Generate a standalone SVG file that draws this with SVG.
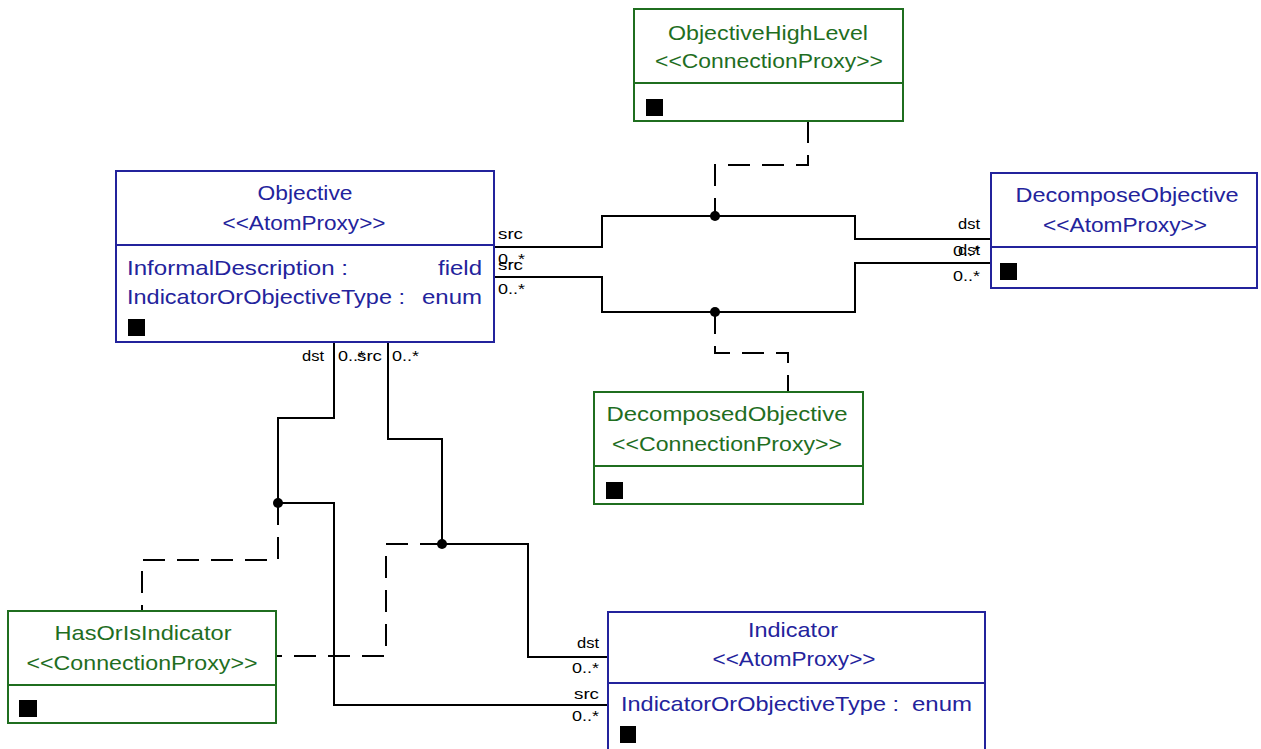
<svg xmlns="http://www.w3.org/2000/svg" width="1261" height="749" viewBox="0 0 1261 749">
<style>
.atom rect.b{fill:#fff;stroke:#23239c;stroke-width:2}
.atom line{stroke:#23239c;stroke-width:2}
.atom text{fill:#23239c}
.conn rect.b{fill:#fff;stroke:#1f6e1f;stroke-width:2}
.conn line{stroke:#1f6e1f;stroke-width:2}
.conn text{fill:#1f6e1f}
text{font-family:"Liberation Sans",Arial,sans-serif;font-size:21px}
.sq{fill:#000}
.c{fill:none;stroke:#000;stroke-width:2}
.d{fill:none;stroke:#000;stroke-width:2;stroke-dasharray:22 12}
.lbl{font-size:15px;fill:#000}
</style>
<rect width="1261" height="749" fill="#fff"/>
<g id="connectors">
<path class="c" d="M494,247 H602 V216 H855 V239 H991"/>
<path class="c" d="M494,277 H602 V312 H855 V263 H991"/>
<path class="d" d="M808,121 V165 H715 V216"/>
<path class="d" d="M715,312 V353 H788 V392"/>
<path class="c" d="M334,342 V418 H278 V503 H334 V705 H608"/>
<path class="d" d="M278,503 V560 H142 V611"/>
<path class="c" d="M388,342 V439 H442 V544 H528 V657 H608"/>
<path class="d" d="M442,544 H386 V656 H276"/>
<circle cx="715" cy="216" r="5"/>
<circle cx="715" cy="312" r="5"/>
<circle cx="278" cy="503" r="5"/>
<circle cx="442" cy="544" r="5"/>
<text class="lbl" x="498" y="239" textLength="25" lengthAdjust="spacingAndGlyphs">src</text>
<text class="lbl" x="498" y="264" textLength="27" lengthAdjust="spacingAndGlyphs">0..*</text>
<text class="lbl" x="498" y="270" textLength="25" lengthAdjust="spacingAndGlyphs">src</text>
<text class="lbl" x="498" y="294" textLength="27" lengthAdjust="spacingAndGlyphs">0..*</text>
<text class="lbl" x="958" y="229" textLength="22" lengthAdjust="spacingAndGlyphs">dst</text>
<text class="lbl" x="953" y="256" textLength="27" lengthAdjust="spacingAndGlyphs">0..*</text>
<text class="lbl" x="958" y="255" textLength="22" lengthAdjust="spacingAndGlyphs">dst</text>
<text class="lbl" x="953" y="281" textLength="27" lengthAdjust="spacingAndGlyphs">0..*</text>
<text class="lbl" x="302" y="361" textLength="22" lengthAdjust="spacingAndGlyphs">dst</text>
<text class="lbl" x="338" y="361" textLength="27" lengthAdjust="spacingAndGlyphs">0..*</text>
<text class="lbl" x="357" y="361" textLength="25" lengthAdjust="spacingAndGlyphs">src</text>
<text class="lbl" x="392" y="361" textLength="27" lengthAdjust="spacingAndGlyphs">0..*</text>
<text class="lbl" x="577" y="648" textLength="22" lengthAdjust="spacingAndGlyphs">dst</text>
<text class="lbl" x="572" y="673" textLength="27" lengthAdjust="spacingAndGlyphs">0..*</text>
<text class="lbl" x="574" y="699" textLength="25" lengthAdjust="spacingAndGlyphs">src</text>
<text class="lbl" x="572" y="721" textLength="27" lengthAdjust="spacingAndGlyphs">0..*</text>
</g>
<g id="Objective" class="atom">
<rect class="b" x="116" y="171" width="378" height="171"/>
<line x1="116" y1="245" x2="494" y2="245"/>
<text x="305" y="200" text-anchor="middle" textLength="95" lengthAdjust="spacingAndGlyphs">Objective</text>
<text x="304" y="230" text-anchor="middle" textLength="163" lengthAdjust="spacingAndGlyphs">&lt;&lt;AtomProxy&gt;&gt;</text>
<text x="127" y="275" textLength="221" lengthAdjust="spacingAndGlyphs">InformalDescription :</text>
<text x="438" y="275" textLength="44" lengthAdjust="spacingAndGlyphs">field</text>
<text x="127" y="304" textLength="278" lengthAdjust="spacingAndGlyphs">IndicatorOrObjectiveType :</text>
<text x="422" y="304" textLength="60" lengthAdjust="spacingAndGlyphs">enum</text>
<rect class="sq" x="128" y="319" width="17" height="17"/>
</g>
<g id="ObjectiveHighLevel" class="conn">
<rect class="b" x="634" y="9" width="269" height="112"/>
<line x1="634" y1="83" x2="903" y2="83"/>
<text x="768" y="40" text-anchor="middle" textLength="200" lengthAdjust="spacingAndGlyphs">ObjectiveHighLevel</text>
<text x="769" y="68" text-anchor="middle" textLength="228" lengthAdjust="spacingAndGlyphs">&lt;&lt;ConnectionProxy&gt;&gt;</text>
<rect class="sq" x="646" y="99" width="17" height="17"/>
</g>
<g id="DecomposeObjective" class="atom">
<rect class="b" x="991" y="173" width="266" height="115"/>
<line x1="991" y1="247" x2="1257" y2="247"/>
<text x="1127" y="202" text-anchor="middle" textLength="223" lengthAdjust="spacingAndGlyphs">DecomposeObjective</text>
<text x="1125" y="232" text-anchor="middle" textLength="164" lengthAdjust="spacingAndGlyphs">&lt;&lt;AtomProxy&gt;&gt;</text>
<rect class="sq" x="1000" y="263" width="17" height="17"/>
</g>
<g id="DecomposedObjective" class="conn">
<rect class="b" x="594" y="392" width="269" height="112"/>
<line x1="594" y1="466" x2="863" y2="466"/>
<text x="727" y="421" text-anchor="middle" textLength="241" lengthAdjust="spacingAndGlyphs">DecomposedObjective</text>
<text x="727" y="451" text-anchor="middle" textLength="230" lengthAdjust="spacingAndGlyphs">&lt;&lt;ConnectionProxy&gt;&gt;</text>
<rect class="sq" x="606" y="482" width="17" height="17"/>
</g>
<g id="HasOrIsIndicator" class="conn">
<rect class="b" x="8" y="611" width="268" height="112"/>
<line x1="8" y1="685" x2="276" y2="685"/>
<text x="143" y="640" text-anchor="middle" textLength="177" lengthAdjust="spacingAndGlyphs">HasOrIsIndicator</text>
<text x="142" y="670" text-anchor="middle" textLength="231" lengthAdjust="spacingAndGlyphs">&lt;&lt;ConnectionProxy&gt;&gt;</text>
<rect class="sq" x="19" y="700" width="18" height="17"/>
</g>
<g id="Indicator" class="atom">
<rect class="b" x="608" y="612" width="377" height="140"/>
<line x1="608" y1="683" x2="985" y2="683"/>
<text x="793" y="637" text-anchor="middle" textLength="90" lengthAdjust="spacingAndGlyphs">Indicator</text>
<text x="794" y="666" text-anchor="middle" textLength="163" lengthAdjust="spacingAndGlyphs">&lt;&lt;AtomProxy&gt;&gt;</text>
<text x="621" y="711" textLength="278" lengthAdjust="spacingAndGlyphs">IndicatorOrObjectiveType :</text>
<text x="912" y="711" textLength="60" lengthAdjust="spacingAndGlyphs">enum</text>
<rect class="sq" x="620" y="726" width="16" height="17"/>
</g>
</svg>
